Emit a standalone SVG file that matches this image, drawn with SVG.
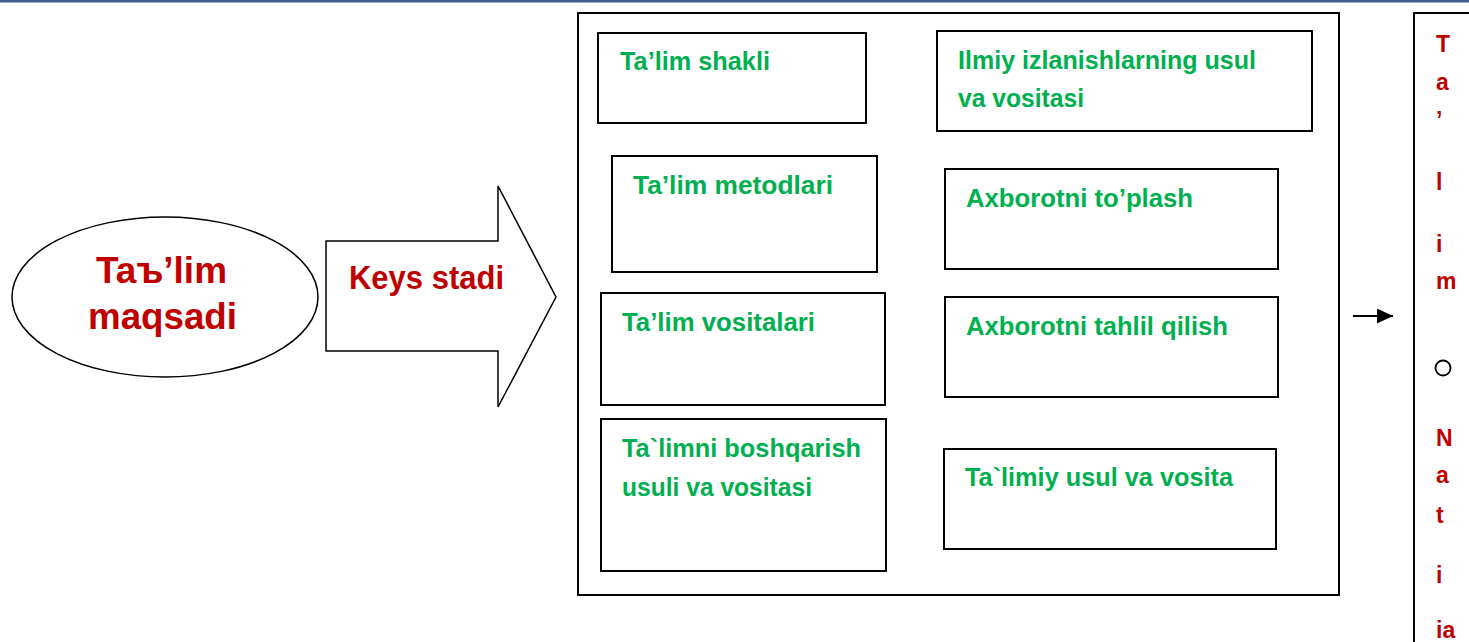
<svg xmlns="http://www.w3.org/2000/svg" width="1469" height="642" viewBox="0 0 1469 642">
<style>
.box{fill:#fff;stroke:#000;stroke-width:2}
.g{font-family:"Liberation Sans",Arial,sans-serif;font-weight:bold;font-size:25px;fill:#00B050}
.r{font-family:"Liberation Sans",Arial,sans-serif;font-weight:bold;fill:#C00000}
.v{font-family:"Liberation Sans",Arial,sans-serif;font-weight:bold;font-size:23px;fill:#C00000}
</style>
<defs>
<marker id="ah" markerWidth="16" markerHeight="15" refX="16" refY="7.5" orient="auto" markerUnits="userSpaceOnUse">
<path d="M0,0 L16,7.5 L0,15 Z" fill="#000"/>
</marker>
</defs>
<rect x="0" y="0" width="1469" height="2.5" fill="#3F5F8C"/>
<g id="goal">
<ellipse cx="165" cy="297" rx="153" ry="80" fill="#fff" stroke="#000" stroke-width="1.5"/>
<text class="r" font-size="37" x="96" y="283" textLength="131" lengthAdjust="spacingAndGlyphs">Taъ’lim</text>
<text class="r" font-size="37" x="88" y="329" textLength="149" lengthAdjust="spacingAndGlyphs">maqsadi</text>
</g>
<g id="case-stage">
<path d="M326,241 L498,241 L498,186 L556,297 L498,407 L498,351 L326,351 Z" fill="#fff" stroke="#000" stroke-width="1.5"/>
<text class="r" font-size="33" x="349" y="289" textLength="155" lengthAdjust="spacingAndGlyphs">Keys stadi</text>
</g>
<g id="container">
<rect class="box" x="578" y="13" width="761" height="582"/>
</g>
<g id="n1"><rect class="box" x="598" y="33" width="268" height="90"/>
<text class="g" x="620" y="70" textLength="150" lengthAdjust="spacingAndGlyphs">Ta’lim shakli</text></g>
<g id="n2"><rect class="box" x="937" y="31" width="375" height="100"/>
<text class="g" x="958" y="69" textLength="298" lengthAdjust="spacingAndGlyphs">Ilmiy izlanishlarning usul</text>
<text class="g" x="958" y="107" textLength="126" lengthAdjust="spacingAndGlyphs">va vositasi</text></g>
<g id="n3"><rect class="box" x="612" y="156" width="265" height="116"/>
<text class="g" x="633" y="194" textLength="200" lengthAdjust="spacingAndGlyphs">Ta’lim metodlari</text></g>
<g id="n4"><rect class="box" x="945" y="169" width="333" height="100"/>
<text class="g" x="966" y="207" textLength="227" lengthAdjust="spacingAndGlyphs">Axborotni to’plash</text></g>
<g id="n5"><rect class="box" x="601" y="293" width="284" height="112"/>
<text class="g" x="622" y="331" textLength="193" lengthAdjust="spacingAndGlyphs">Ta’lim vositalari</text></g>
<g id="n6"><rect class="box" x="945" y="297" width="333" height="100"/>
<text class="g" x="966" y="335" textLength="262" lengthAdjust="spacingAndGlyphs">Axborotni tahlil qilish</text></g>
<g id="n7"><rect class="box" x="601" y="419" width="285" height="152"/>
<text class="g" x="622" y="457" textLength="239" lengthAdjust="spacingAndGlyphs">Ta`limni boshqarish</text>
<text class="g" x="622" y="496" textLength="190" lengthAdjust="spacingAndGlyphs">usuli va vositasi</text></g>
<g id="n8"><rect class="box" x="944" y="449" width="332" height="100"/>
<text class="g" x="965" y="486" textLength="268" lengthAdjust="spacingAndGlyphs">Ta`limiy usul va vosita</text></g>
<g id="connectors">
<line x1="1353" y1="316" x2="1393" y2="316" stroke="#000" stroke-width="2" marker-end="url(#ah)"/>
</g>
<g id="result">
<rect x="1414" y="13" width="70" height="650" fill="#fff" stroke="#000" stroke-width="2"/>
<text class="v" x="1436" y="52">T</text>
<text class="v" x="1436" y="90">a</text>
<text class="v" x="1436" y="128">’</text>
<text class="v" x="1436" y="190">l</text>
<text class="v" x="1436" y="252">i</text>
<text class="v" x="1436" y="289">m</text>
<circle cx="1443" cy="368" r="7.5" fill="none" stroke="#000" stroke-width="1.8"/>
<text class="v" x="1436" y="446">N</text>
<text class="v" x="1436" y="483">a</text>
<text class="v" x="1436" y="523">t</text>
<text class="v" x="1436" y="583">i</text>
<text class="v" x="1436" y="638">ia</text>
</g>
</svg>
